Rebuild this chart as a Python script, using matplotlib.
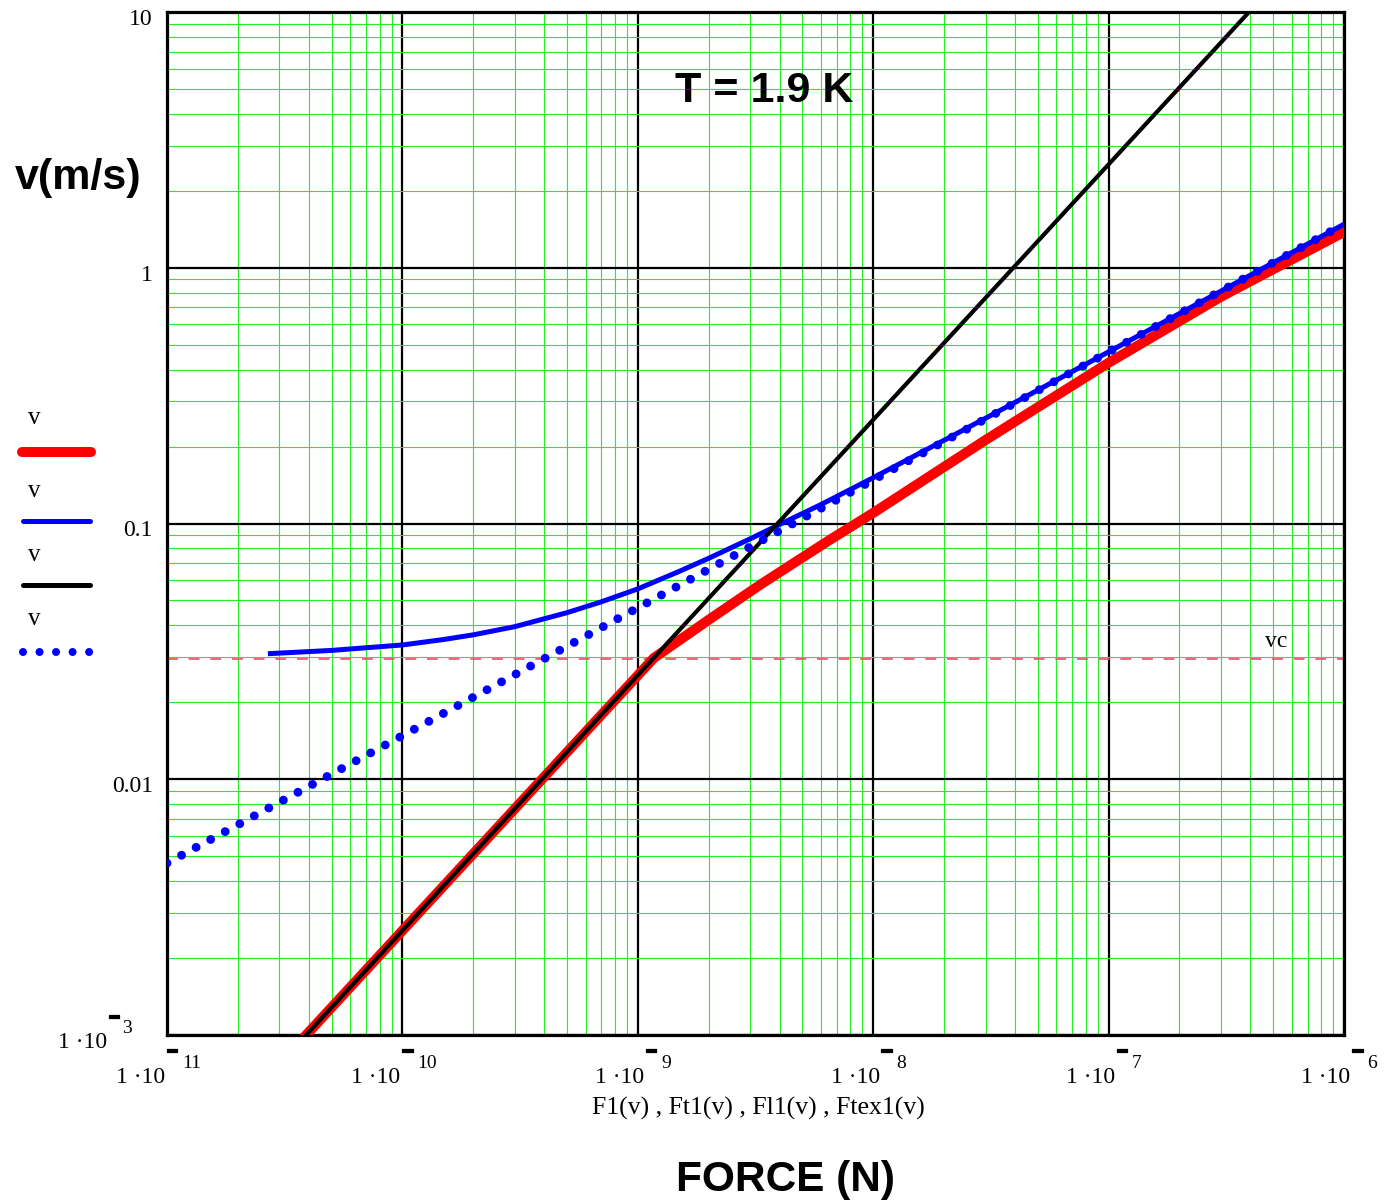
import matplotlib
matplotlib.use("Agg")
import matplotlib.pyplot as plt
import matplotlib.patheffects as pe
from matplotlib.lines import Line2D
from matplotlib.ticker import LogLocator, NullFormatter

# traces: force (N) against velocity (m/s), T = 1.9 K
f_red = [3.9e-11, 1.17e-9, 2e-9, 3.3e-9, 6.5e-9, 1e-8, 3e-8, 1e-7, 3e-7, 1e-6]
v_red = [1e-3, 0.0298, 0.042, 0.0575, 0.086, 0.110, 0.212, 0.425, 0.77, 1.38]

f_blue = [2.75e-11, 5e-11, 1e-10, 1.5e-10, 2e-10, 3e-10, 5e-10, 7e-10, 1e-9,
          1.5e-9, 2e-9, 3e-9, 4e-9, 6e-9, 1e-8, 2e-8, 3e-8, 5e-8, 1e-7,
          2e-7, 3e-7, 5e-7, 1e-6]
v_blue = [0.031, 0.0319, 0.0335, 0.0352, 0.0367, 0.0395, 0.0448, 0.0494, 0.0555,
          0.0650, 0.0731, 0.0871, 0.0991, 0.1186, 0.151, 0.2115, 0.258, 0.332, 0.469,
          0.662, 0.81, 1.046, 1.48]

f_black = [3.9e-11, 3.95e-7]
v_black = [1e-3, 10.0]

f_dot = [1e-11, 1e-10, 1e-9, 1e-8, 1e-7, 1e-6]
v_dot = [0.0047, 0.0148, 0.0468, 0.148, 0.468, 1.48]

vc = 0.0295

x_exps = [-11, -10, -9, -8, -7, -6]
y_ticks = [10, 1, 0.1, 0.01]
y_labels = ["10", "1", "0.1", "0.01"]

SERIF = "Liberation Serif"
SANS = "Liberation Sans"
W, H = 1386, 1200
bar_fx = [pe.withStroke(linewidth=0.9, foreground="black")]


def fx(px):
    return px / W


def fy(py):
    return 1 - py / H


fig = plt.figure(figsize=(W / 100, H / 100), dpi=100)
ax = fig.add_axes([fx(167), fy(1035), fx(1344) - fx(167), fy(12) - fy(1035)])
ax.set_xscale("log")
ax.set_yscale("log")
ax.set_xlim(1e-11, 1e-6)
ax.set_ylim(1e-3, 10)

ax.xaxis.set_minor_locator(LogLocator(base=10, subs=range(2, 10), numticks=20))
ax.yaxis.set_minor_locator(LogLocator(base=10, subs=range(2, 10), numticks=20))
ax.xaxis.set_minor_formatter(NullFormatter())
ax.yaxis.set_minor_formatter(NullFormatter())
ax.set_xticklabels([])
ax.set_yticklabels([])
ax.tick_params(which="both", length=0)
ax.grid(which="minor", color="#22ee22", lw=0.8)
ax.grid(which="major", color="black", lw=1.6)
ax.set_axisbelow(True)
for s in ax.spines.values():
    s.set_linewidth(2.3)

ax.axhline(vc, color="#f05050", lw=1.2, ls=(0, (6.5, 6.5)), zorder=2)
ax.annotate("vc", xy=(1e-6, vc), xytext=(-79, 12), textcoords="offset pixels",
            ha="left", va="baseline", fontsize=17, family=SERIF)

ax.plot(f_red, v_red, color="red", lw=7.2, zorder=3)
ax.plot(f_blue, v_blue, color="blue", lw=3.6, zorder=4)
ax.plot(f_black, v_black, color="black", lw=3.0, zorder=5)
ax.plot(f_dot, v_dot, color="blue", lw=6.4, ls=(0, (0.001, 1.86)),
        dash_capstyle="round", zorder=6)

# Mathcad style tick labels: "1 ·10" with a raised exponent
for e in x_exps:
    n = len(str(-e))
    dx = 15 - 8.5 * n
    ax.annotate("1 ·10", xy=(10.0 ** e, 1e-3), xytext=(dx, -48),
                textcoords="offset pixels", ha="right", va="baseline",
                fontsize=17, family=SERIF, annotation_clip=False)
    ax.annotate("\u2212", xy=(10.0 ** e, 1e-3), xytext=(dx + 7, -17),
                textcoords="offset pixels", ha="center", va="center",
                fontsize=15, family=SANS, fontweight="bold", annotation_clip=False,
                path_effects=bar_fx)
    ax.annotate(str(-e), xy=(10.0 ** e, 1e-3), xytext=(dx + 17, -33),
                textcoords="offset pixels", ha="left", va="baseline",
                fontsize=14, family=SERIF, annotation_clip=False)

for v, lab in zip(y_ticks, y_labels):
    ax.annotate(lab, xy=(1e-11, v), xytext=(-14, -13), textcoords="offset pixels",
                ha="right", va="baseline", fontsize=17, family=SERIF,
                annotation_clip=False)
ax.annotate("1 ·10", xy=(1e-11, 1e-3), xytext=(-60, -13), textcoords="offset pixels",
            ha="right", va="baseline", fontsize=17, family=SERIF, annotation_clip=False)
ax.annotate("\u2212", xy=(1e-11, 1e-3), xytext=(-53, 17), textcoords="offset pixels",
            ha="center", va="center", fontsize=15, family=SANS, fontweight="bold",
            annotation_clip=False, path_effects=bar_fx)
ax.annotate("3", xy=(1e-11, 1e-3), xytext=(-45, 2), textcoords="offset pixels",
            ha="left", va="baseline", fontsize=14, family=SERIF, annotation_clip=False)

fig.text(fx(758), fy(1115), "F1(v) , Ft1(v) , Fl1(v) , Ftex1(v)", ha="center",
         va="baseline", fontsize=18.5, family=SERIF)
fig.text(fx(786), fy(1191), "FORCE (N)", ha="center", va="baseline",
         fontsize=30.5, family=SANS, fontweight="bold")
fig.text(fx(15), fy(189), "v(m/s)", ha="left", va="baseline",
         fontsize=31, family=SANS, fontweight="bold")
fig.text(fx(764), fy(102), "T = 1.9 K", ha="center", va="baseline",
         fontsize=31, family=SANS, fontweight="bold")

# legend on the left, label above each sample line
legend = [
    (424, 452, dict(color="red", lw=7.2, solid_capstyle="round"), 22, 91),
    (497, 521, dict(color="blue", lw=3.6, solid_capstyle="round"), 23, 90),
    (561, 585, dict(color="black", lw=3.6, solid_capstyle="round"), 23, 90),
    (625, 652, dict(color="blue", lw=5.8, ls=(0, (0.001, 2.05)),
                    dash_capstyle="round"), 23, 92),
]
for ty, ly, style, x0, x1 in legend:
    fig.text(fx(34), fy(ty), "v", ha="center", va="baseline", fontsize=18, family=SERIF)
    fig.add_artist(Line2D([fx(x0), fx(x1)], [fy(ly), fy(ly)],
                          transform=fig.transFigure, **style))

fig.savefig("out.png", dpi=100)
